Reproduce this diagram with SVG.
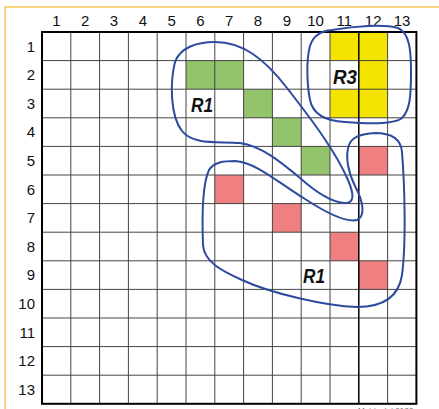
<svg xmlns="http://www.w3.org/2000/svg" width="439" height="409" viewBox="0 0 439 409">
<style>
.lbl{font-family:"Liberation Sans",Arial,sans-serif;font-size:15px;fill:#111}
.col{text-anchor:middle}
.row{text-anchor:end}
.g{fill:#93c36b}
.y{fill:#f5e400}
.p{fill:#f07f82}
.grid{stroke:#444;stroke-width:1;fill:none}
.loop{fill:none;stroke:#2c4b9f;stroke-width:2;stroke-linejoin:round}
.rt{font-family:"Liberation Sans",Arial,sans-serif;font-size:19.5px;font-weight:bold;font-style:italic;fill:#111}
</style>
<rect width="439" height="409" fill="#fff"/>
<path d="M5 409 V7 H439" fill="none" stroke="#f8c55a" stroke-width="1.5"/>
<g id="cells">
<rect class="g" x="186" y="60.6" width="57.6" height="28.6"/>
<rect class="g" x="243.6" y="89.2" width="28.8" height="28.6"/>
<rect class="g" x="272.4" y="117.8" width="28.8" height="28.6"/>
<rect class="g" x="301.2" y="146.4" width="28.8" height="28.6"/>
<rect class="y" x="330" y="32" width="28.8" height="28.6"/>
<rect class="y" x="330" y="89.2" width="28.8" height="28.6"/>
<rect class="y" x="358.8" y="32" width="28.8" height="85.8"/>
<rect class="p" x="358.8" y="146.4" width="28.8" height="28.6"/>
<rect class="p" x="214.8" y="175" width="28.8" height="28.6"/>
<rect class="p" x="272.4" y="203.6" width="28.8" height="28.6"/>
<rect class="p" x="330" y="232.2" width="28.8" height="28.6"/>
<rect class="p" x="358.8" y="260.8" width="28.8" height="28.6"/>
</g>
<g id="grid" class="grid">
<path d="M70.8 32V403.8M99.6 32V403.8M128.4 32V403.8M157.2 32V403.8M186 32V403.8M214.8 32V403.8M243.6 32V403.8M272.4 32V403.8M301.2 32V403.8M330 32V403.8M387.6 32V403.8"/>
<path d="M42 60.6H416.4M42 89.2H416.4M42 117.8H416.4M42 146.4H416.4M42 175H416.4M42 203.6H416.4M42 232.2H416.4M42 260.8H416.4M42 289.4H416.4M42 318H416.4M42 346.6H416.4M42 375.2H416.4"/>
<path d="M358.8 32V403.8" stroke="#000" stroke-width="1.5"/>
<rect x="42" y="32" width="374.4" height="371.8" stroke="#000" stroke-width="2"/>
</g>
<g id="col-labels" class="lbl col">
<text x="56.4" y="25.5">1</text><text x="85.2" y="25.5">2</text><text x="114" y="25.5">3</text><text x="142.8" y="25.5">4</text><text x="171.6" y="25.5">5</text><text x="200.4" y="25.5">6</text><text x="229.2" y="25.5">7</text><text x="258" y="25.5">8</text><text x="286.8" y="25.5">9</text><text x="315.6" y="25.5">10</text><text x="344.4" y="25.5">11</text><text x="373.2" y="25.5">12</text><text x="402" y="25.5">13</text>
</g>
<g id="row-labels" class="lbl row">
<text x="35" y="51.5">1</text><text x="35" y="80.1">2</text><text x="35" y="108.7">3</text><text x="35" y="137.3">4</text><text x="35" y="165.9">5</text><text x="35" y="194.5">6</text><text x="35" y="223.1">7</text><text x="35" y="251.7">8</text><text x="35" y="280.3">9</text><text x="35" y="308.9">10</text><text x="35" y="337.5">11</text><text x="35" y="366.1">12</text><text x="35" y="394.7">13</text>
</g>
<g id="region-r1-green">
<path class="loop" d="M215 42 C242 42 264 58 287 88 C312 120 336 152 348 180 C354 194 355 204 344 203 C332 202 318 194 300 178 C282 163 262 146 240 143 C220 141 194 146 182 131 C170 116 170 82 175 62 C180 48 196 42 215 42 Z"/>
<text class="rt" x="191" y="111.8" textLength="22" lengthAdjust="spacingAndGlyphs">R1</text>
</g>
<g id="region-r3">
<path class="loop" d="M332 30 C355 26 384 24 398 28 C410 33 411 52 411 72 C411 96 410 110 402 118 C395 124 370 124 345 122 C326 121 313 115 310 100 C307 85 306 60 310 46 C313 36 320 31 332 30 Z"/>
<text class="rt" x="333" y="83.8" textLength="24" lengthAdjust="spacingAndGlyphs">R3</text>
</g>
<g id="region-r1-red">
<path class="loop" d="M235 161 C256 162 280 184 305 199 C325 212 345 223 357 220 C366 216 363 201 355 186 C348 172 345 156 349 145 C352 137 360 134 375 133 C392 133 401 139 402 152 C405 190 406 245 402 275 C399 295 385 307 357 307 C325 306 270 293 242 280 C222 271 204 262 203 245 C202 218 202 185 209 170 C214 162 224 161 235 161 Z"/>
<text class="rt" x="303" y="283" textLength="22" lengthAdjust="spacingAndGlyphs">R1</text>
</g>
<text x="358" y="413" font-family="Liberation Sans,Arial,sans-serif" font-size="8" fill="#666">Matrix dot 0188</text>
</svg>
